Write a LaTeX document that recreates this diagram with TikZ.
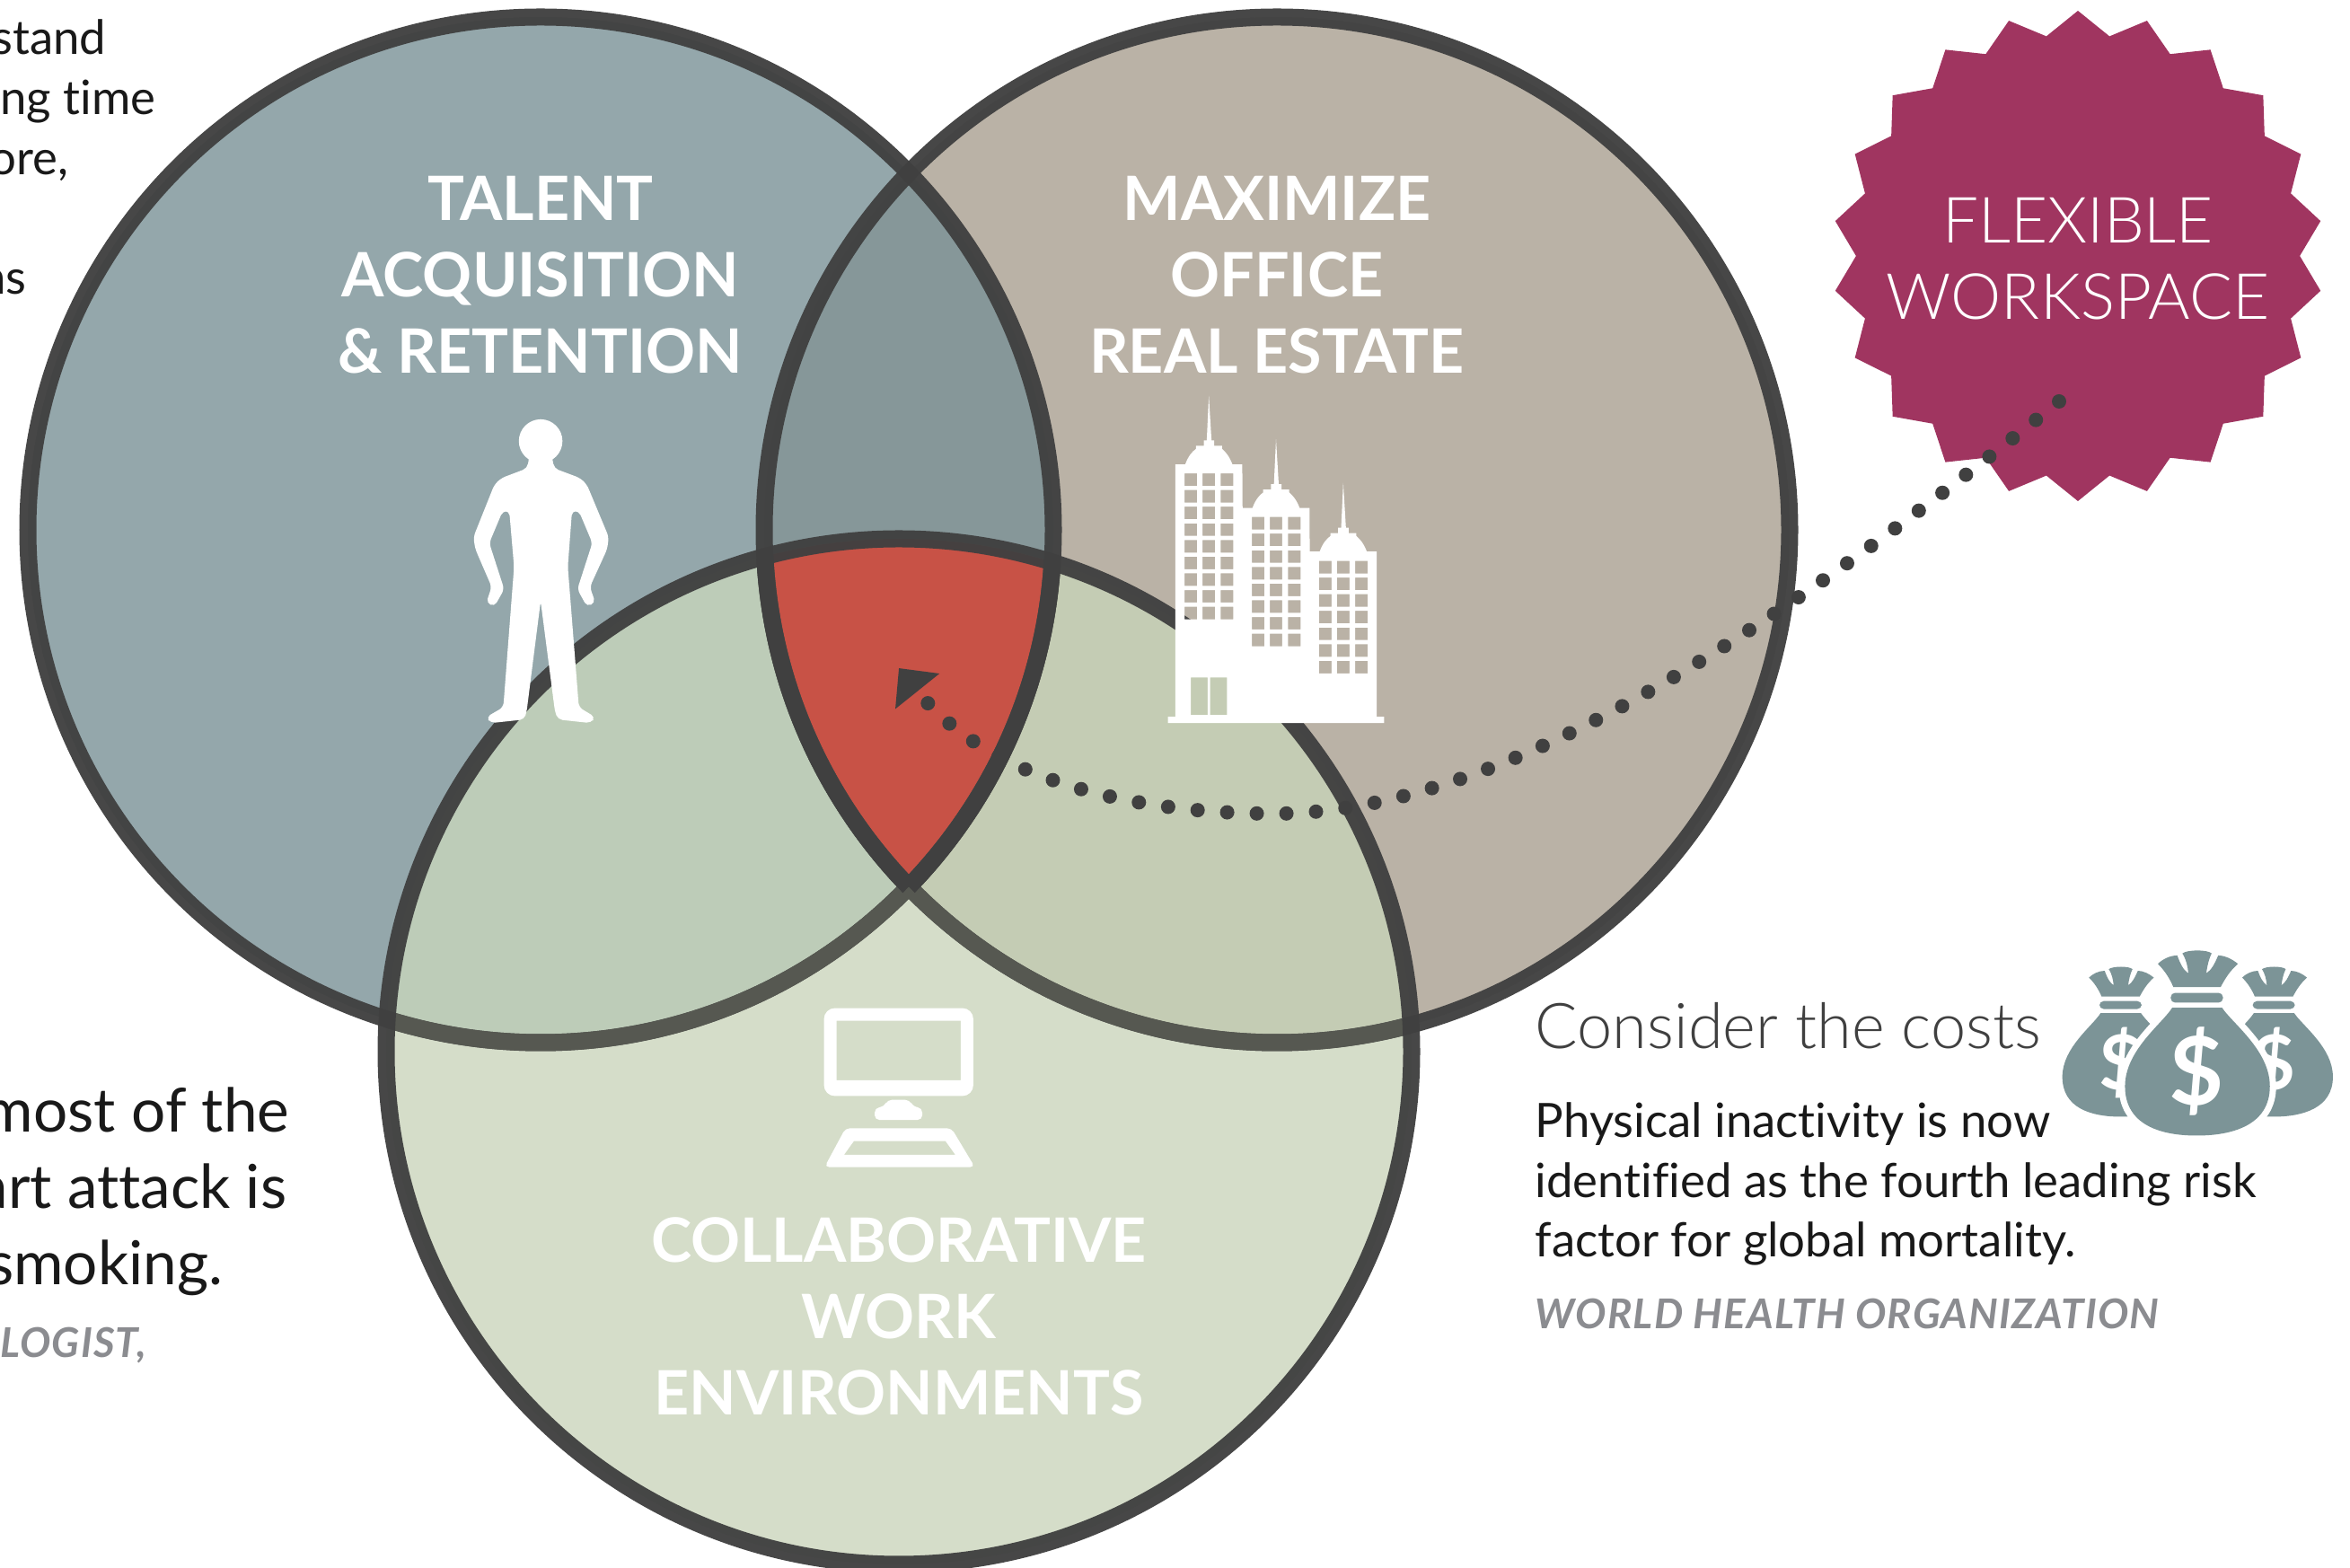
\documentclass[tikz,border=0pt]{standalone}
\usepackage{fontspec}
\setmainfont{Lato}[Ligatures=NoCommon]
\newfontfamily\lightfont{Lato Light}[Ligatures=NoCommon]
\usetikzlibrary{arrows.meta,shapes.geometric}

\definecolor{ringgray}{HTML}{404040}
\definecolor{blueset}{HTML}{94A7AB}
\definecolor{sandset}{HTML}{BAB2A6}
\definecolor{greenset}{HTML}{D5DDC9}
\definecolor{bluesand}{HTML}{869799}
\definecolor{bluegreen}{HTML}{BDCCB8}
\definecolor{sandgreen}{HTML}{C4CCB4}
\definecolor{allred}{HTML}{C85246}
\definecolor{softring}{HTML}{565851}
\definecolor{burst}{HTML}{A03560}
\definecolor{bagteal}{HTML}{7C9497}
\definecolor{sourcegray}{HTML}{8B8C90}

\tikzset{
  setlabel/.style={text=white, align=center, font=\fontsize{19.4}{24.2}\selectfont\bfseries},
  bodytext/.style={text=black!90, font=\fontsize{15}{18}\selectfont},
  bigtext/.style={text=black!90, font=\fontsize{19.2}{24}\selectfont},
  sourcetext/.style={text=sourcegray, font=\fontsize{13}{15}\selectfont\bfseries\itshape\addfontfeatures{LetterSpace=2.6}},
  dollar/.style={text=white, inner sep=0pt, font=\bfseries},
  ring/.style={line width=0.19cm},
  dotline/.style={ringgray, line width=0.16cm, line cap=round, dash pattern=on 0pt off 0.33cm,
    -{Triangle[length=0.33cm, width=0.61cm, fill=ringgray]}}
}

\newcommand{\setA}{(6.02,11.56) circle (5.71)}
\newcommand{\setB}{(14.22,11.56) circle (5.71)}
\newcommand{\setC}{(10.01,5.75) circle (5.71)}

\newcommand{\bagpath}{(482,178) .. controls (470,150) and (455,125) .. (430,100)
  .. controls (445,85) and (470,72) .. (495,72) .. controls (505,100) and (515,120) .. (532,132)
  .. controls (530,110) and (525,85) .. (512,65) .. controls (530,52) and (595,52) .. (610,65)
  .. controls (600,85) and (595,110) .. (592,132) .. controls (610,120) and (620,100) .. (632,72)
  .. controls (655,72) and (680,85) .. (698,100) .. controls (670,125) and (655,150) .. (640,178) -- cycle
  {[rounded corners=0.05cm] (473,197) rectangle (648,230)}
  (478,247) -- (645,247) .. controls (680,300) and (805,390) .. (805,510)
  .. controls (805,640) and (680,675) .. (560,675) .. controls (440,675) and (320,640) .. (320,510)
  .. controls (320,390) and (445,300) .. (478,247) -- cycle}

\begin{document}
\begin{tikzpicture}
  \useasboundingbox (0,0) rectangle (26.17,17.46);

  %% fills
  \fill[blueset] \setA;
  \fill[sandset] \setB;
  \fill[greenset] \setC;
  \begin{scope}
    \clip \setA;
    \fill[bluesand] \setB;
  \end{scope}
  \begin{scope}
    \clip \setA;
    \fill[bluegreen] \setC;
  \end{scope}
  \begin{scope}
    \clip \setB;
    \fill[sandgreen] \setC;
  \end{scope}
  \begin{scope}
    \clip \setA;
    \clip \setB;
    \fill[allred] \setC;
  \end{scope}

  %% rings
  \draw[ringgray, ring, opacity=0.96] \setA;
  \draw[ringgray, ring, opacity=0.96] \setB;
  \begin{scope}
    \clip \setC;
    \draw[softring, ring] \setA;
    \draw[softring, ring] \setB;
  \end{scope}
  \begin{scope}
    \clip \setC;
    \clip \setA;
    \draw[ringgray, ring] \setB;
  \end{scope}
  \begin{scope}
    \clip \setC;
    \clip \setB;
    \draw[ringgray, ring] \setA;
  \end{scope}
  \draw[ringgray, ring, opacity=0.96] \setC;

  %% labels
  \node[setlabel] (talent) at (6.02,14.40) {TALENT\\ACQUISITION\\\& RETENTION};
  \node[setlabel] (maximize) at (14.22,14.40) {MAXIMIZE\\OFFICE\\REAL ESTATE};
  \node[setlabel] (collab) at (10.01,2.80) {COLLABORATIVE\\WORK\\ENVIRONMENTS};

  %% burst
  \node[star, star points=22, star point ratio=1.105, fill=burst, inner sep=0pt,
    minimum size=5.46cm] (burstshape) at (23.14,14.61) {};
  \node[text=white, align=center, font=\fontsize{20.2}{24.2}\lightfont] (flexible) at (23.14,14.58) {FLEXIBLE\\WORKSPACE};

  %% dots
  \coordinate (dotstart) at (22.93,12.99);
  \coordinate (dotmid) at (14.19,8.40);
  \coordinate (dottip) at (10.01,10.02);
  \draw[dotline] (dotstart) .. controls (19.90,10.56) and (16.80,8.40) .. (dotmid)
    .. controls (12.90,8.40) and (11.10,8.66) .. (dottip);

  %% person
  \begin{scope}[shift={(4.80,13.16)}, x=0.00333cm, y=-0.00333cm]
    \fill[white] (367,184) circle (73);
    \fill[white, rounded corners=0.05cm] (330,230) -- (322,275) -- (235,308) -- (212,330) -- (142,505)
      -- (148,545) -- (203,672) -- (185,725) -- (212,738) -- (245,680) -- (195,525) -- (240,418)
      -- (262,418) -- (278,605) -- (242,1075) -- (185,1108) -- (200,1128) -- (312,1116) -- (320,1090)
      -- (367,720) -- (415,1090) -- (425,1116) -- (535,1128) -- (550,1108) -- (495,1075) -- (458,605)
      -- (472,418) -- (495,418) -- (540,525) -- (490,680) -- (522,738) -- (550,725) -- (532,672)
      -- (590,545) -- (595,505) -- (522,330) -- (500,308) -- (412,275) -- (404,230) -- cycle;
  \end{scope}

  %% towers
  \begin{scope}[shift={(12.70,13.26)}, x=0.00333cm, y=-0.00333cm]
    \fill[white, even odd rule] (92,1158) -- (816,1158) -- (816,1137) -- (791,1137)
      \foreach \dx/\dy in {450/292,225/146,0/0} {
        -- ({341+\dx},{292+\dy}) -- ({308+\dx},{292+\dy})
        .. controls ({298+\dx},{265+\dy}) and ({285+\dx},{250+\dy}) .. ({273+\dx},{240+\dy})
        -- ({273+\dx},{230+\dy}) -- ({247+\dx},{230+\dy}) -- ({247+\dx},{212+\dy}) -- ({238+\dx},{212+\dy})
        -- ({229+\dx},{62+\dy}) -- ({222+\dx},{212+\dy}) -- ({212+\dx},{212+\dy}) -- ({212+\dx},{230+\dy})
        -- ({186+\dx},{230+\dy}) -- ({186+\dx},{240+\dy})
        .. controls ({172+\dx},{250+\dy}) and ({160+\dx},{265+\dy}) .. ({150+\dx},{292+\dy})
        -- ({117+\dx},{292+\dy})
      }
      -- (117,1137) -- (92,1137) -- cycle
      \foreach \dx/\dy/\n in {0/0/9,225/146/8,450/293/7} {
        \foreach \r in {1,...,\n} {
          \foreach \wx in {148,208,269} {
            ({\wx+\dx},{322+\dy+(\r-1)*55.8}) rectangle ++(42,42)
          }
        }
      }
      (169,1005) rectangle (225,1131) (233,1005) rectangle (290,1131);
  \end{scope}

  %% computer
  \begin{scope}[shift={(8.80,6.46)}, x=0.00333cm, y=-0.00333cm]
    \fill[white, even odd rule] {[rounded corners=0.12cm] (113,68) rectangle (613,362)}
      (155,110) rectangle (571,309);
    \fill[white, rounded corners=0.05cm] (283,442) -- (283,402) -- (315,398) -- (325,375) -- (400,375)
      -- (412,398) -- (442,402) -- (442,442) -- cycle;
    \fill[white, even odd rule] {[rounded corners=0.05cm] (185,470) -- (540,470) -- (618,600) -- (115,600) -- cycle}
      (213,513) -- (520,513) -- (553,559) -- (180,559) -- cycle;
  \end{scope}

  %% bags
  \begin{scope}[shift={(22.60,7.06)}, x=0.00333cm, y=-0.00333cm]
    \begin{scope}[shift={(-149,65)}, scale=0.81]
      \fill[bagteal] \bagpath;
    \end{scope}
    \begin{scope}[shift={(364,65)}, scale=0.81]
      \fill[bagteal] \bagpath;
    \end{scope}
    \node[dollar, font=\fontsize{24}{24}\selectfont\bfseries] (leftdollar) at (305,430) {\$};
    \node[dollar, font=\fontsize{24}{24}\selectfont\bfseries] (rightdollar) at (818,430) {\$};
    \draw[white, line width=0.14cm] \bagpath;
    \fill[bagteal] \bagpath;
    \node[dollar, font=\fontsize{30}{30}\selectfont\bfseries] (middollar) at (560,460) {\$};
  \end{scope}

  %% left text
  \node[bodytext, anchor=base east, inner sep=0pt] (standline) at (1.19,16.85) {stand};
  \node[bodytext, anchor=base east, inner sep=0pt] (timeline) at (1.74,16.18) {ing time};
  \node[bodytext, anchor=base east, inner sep=0pt] (oreline) at (0.77,15.51) {ore,};
  \node[bodytext, anchor=base east, inner sep=0pt] (nsline) at (0.30,14.18) {ns};
  \node[bigtext, anchor=base east, inner sep=0pt] (mostline) at (3.23,4.85) {most of the};
  \node[bigtext, anchor=base east, inner sep=0pt] (attackline) at (3.20,4.00) {art attack is};
  \node[bigtext, anchor=base east, inner sep=0pt] (smokeline) at (2.49,3.15) {smoking.};
  \node[sourcetext, anchor=base east, inner sep=0pt] (logistline) at (1.64,2.34) {LOGIST,};

  %% right text
  \node[anchor=base west, inner sep=0pt, text=black!75, font=\fontsize{20}{24}\lightfont] (costs) at (17.09,5.78) {Consider the costs};
  \node[bodytext, anchor=base west, inner sep=0pt] (inactive) at (17.09,4.79) {Physical inactivity is now};
  \node[bodytext, anchor=base west, inner sep=0pt] (riskline) at (17.09,4.12) {identified as the fourth leading risk};
  \node[bodytext, anchor=base west, inner sep=0pt] (factor) at (17.09,3.46) {factor for global mortality.};
  \node[sourcetext, anchor=base west, inner sep=0pt] (who) at (17.09,2.66) {WORLD HEALTH ORGANIZATION};
\end{tikzpicture}
\end{document}
